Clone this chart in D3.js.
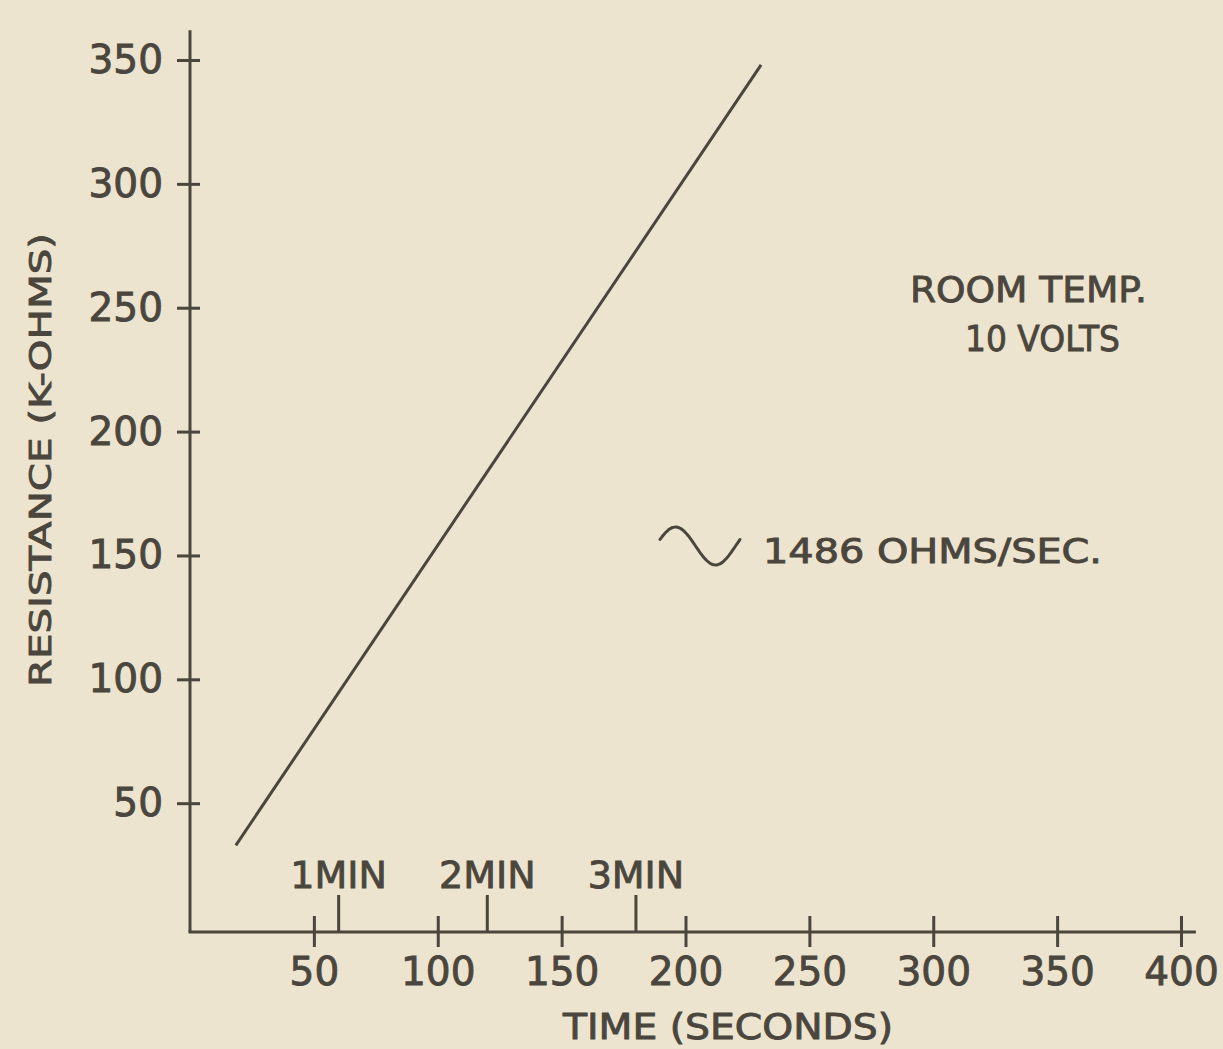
<!DOCTYPE html>
<html>
<head>
<meta charset="utf-8">
<script src="https://cdn.jsdelivr.net/npm/d3@7"></script>
<style>
  html, body { margin: 0; padding: 0; background: #ece4cf; }
  svg { display: block; }
  text { font-family: "DejaVu Sans", "Liberation Sans", sans-serif; fill: #4b463d; stroke: #4b463d; stroke-width: 0.9px; }
</style>
</head>
<body>
<svg id="chart" width="1223" height="1049"></svg>
<script>
// Resistance rise over time (room temperature, 10 V)
const timeSec      = [18.5, 230.5];   // seconds
const resistanceK  = [33, 348];       // kilo-ohms
const xTickValues  = [50, 100, 150, 200, 250, 300, 350, 400];
const yTickValues  = [50, 100, 150, 200, 250, 300, 350];
const minuteTicks  = [60, 120, 180];
const minuteLabels = ["1MIN", "2MIN", "3MIN"];
const rateLabel    = "1486 OHMS/SEC.";
const noteLines    = ["ROOM TEMP.", "10 VOLTS"];

const ink = "#4b463d";
const svg = d3.select("#chart");

const x = d3.scaleLinear().domain([0, 400]).range([190, 1181]);
const y = d3.scaleLinear().domain([-2, 350]).range([932, 60]);
const x0 = x(0), yBase = y(-2);

// Axis lines
svg.append("line")
  .attr("x1", x0).attr("x2", x0)
  .attr("y1", yBase).attr("y2", y(362))
  .attr("stroke", ink).attr("stroke-width", 3);
svg.append("line")
  .attr("x1", x0 - 1.5).attr("x2", x(406))
  .attr("y1", yBase).attr("y2", yBase)
  .attr("stroke", ink).attr("stroke-width", 3);

// Y axis ticks and labels
const yAxis = svg.append("g")
  .attr("transform", `translate(${x0},0)`)
  .call(d3.axisLeft(y).tickValues(yTickValues).tickSize(13).tickPadding(14));
yAxis.select(".domain").remove();
yAxis.selectAll(".tick line").attr("x1", 10).attr("stroke", ink).attr("stroke-width", 3);
yAxis.selectAll(".tick text")
  .style("font-size", "39px").style("fill", ink)
  .attr("font-family", null);

// X axis ticks and labels
const xAxis = svg.append("g")
  .attr("transform", `translate(0,${yBase})`)
  .call(d3.axisBottom(x).tickValues(xTickValues).tickSize(15).tickPadding(10));
xAxis.select(".domain").remove();
xAxis.selectAll(".tick line").attr("y1", -16).attr("stroke", ink).attr("stroke-width", 3);
xAxis.selectAll(".tick text")
  .style("font-size", "39px").style("fill", ink)
  .attr("font-family", null);

// Minute markers
const mins = svg.append("g");
mins.selectAll("line").data(minuteTicks).join("line")
  .attr("x1", d => x(d)).attr("x2", d => x(d))
  .attr("y1", yBase).attr("y2", yBase - 37)
  .attr("stroke", ink).attr("stroke-width", 3);
mins.selectAll("text").data(minuteTicks).join("text")
  .attr("x", d => x(d)).attr("y", yBase - 44)
  .attr("text-anchor", "middle")
  .style("font-size", "38px")
  .text((d, i) => minuteLabels[i]);

// Resistance line
const line = d3.line().x(d => x(d[0])).y(d => y(d[1]));
svg.append("path")
  .datum(timeSec.map((t, i) => [t, resistanceK[i]]))
  .attr("d", line)
  .attr("fill", "none")
  .attr("stroke", ink)
  .attr("stroke-width", 3);

// Axis titles
svg.append("text")
  .attr("x", 728).attr("y", 1039)
  .attr("text-anchor", "middle")
  .attr("textLength", 330).attr("lengthAdjust", "spacingAndGlyphs")
  .style("font-size", "35px")
  .text("TIME (SECONDS)");
svg.append("text")
  .attr("transform", "translate(51,460) rotate(-90)")
  .attr("text-anchor", "middle")
  .attr("textLength", 454).attr("lengthAdjust", "spacingAndGlyphs")
  .style("font-size", "31px")
  .text("RESISTANCE (K-OHMS)");

// Test-condition note
svg.append("text")
  .attr("x", 910).attr("y", 302)
  .attr("textLength", 237).attr("lengthAdjust", "spacingAndGlyphs")
  .style("font-size", "36px")
  .text(noteLines[0]);
svg.append("text")
  .attr("x", 965).attr("y", 351)
  .attr("textLength", 155).attr("lengthAdjust", "spacingAndGlyphs")
  .style("font-size", "36px")
  .text(noteLines[1]);

// Slope annotation with "approximately" wave sign
const rate = svg.append("g").attr("transform", "translate(660,546)");
const wave = d3.range(0, 1.0001, 0.02).map(u => [u * 80, -19 * Math.sin(u * 2 * Math.PI + 0.35)]);
rate.append("path")
  .attr("d", d3.line().curve(d3.curveBasis)(wave))
  .attr("fill", "none").attr("stroke", ink).attr("stroke-width", 3)
  .attr("stroke-linecap", "round");
rate.append("text")
  .attr("x", 103).attr("y", 17)
  .attr("textLength", 339).attr("lengthAdjust", "spacingAndGlyphs")
  .style("font-size", "33px")
  .text(rateLabel);
</script>
</body>
</html>
